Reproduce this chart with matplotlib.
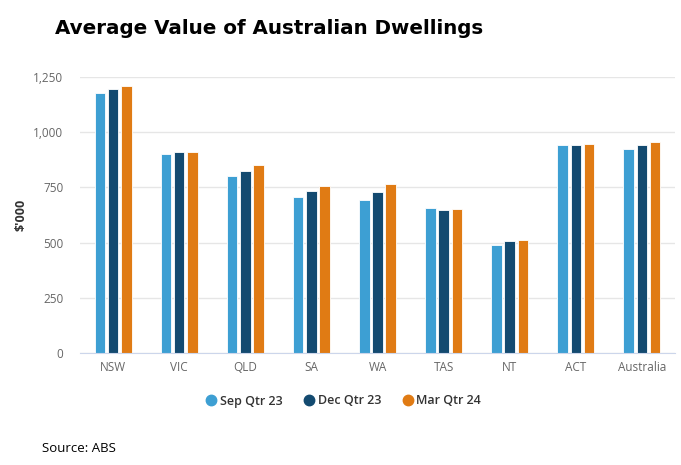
import matplotlib
matplotlib.use("Agg")
import matplotlib.pyplot as plt
import numpy as np
from matplotlib.lines import Line2D

categories = ["NSW", "VIC", "QLD", "SA", "WA", "TAS", "NT", "ACT", "Australia"]
series_names = ["Sep Qtr 23", "Dec Qtr 23", "Mar Qtr 24"]
sep_q23 = [1176, 901, 803, 707, 691, 658, 488, 944, 922]
dec_q23 = [1194, 912, 826, 734, 728, 648, 507, 940, 940]
mar_q24 = [1209, 912, 850, 756, 767, 651, 510, 948, 956]
yticks = [0, 250, 500, 750, 1000, 1250]
ytick_labels = ["0", "250", "500", "750", "1,000", "1,250"]
colors = ["#3D9FD3", "#134A70", "#E07B14"]

plt.rcParams['font.family'] = ['Open Sans', 'DejaVu Sans']

fig = plt.figure(figsize=(6.81, 4.65), dpi=100)
ax = fig.add_axes([80/681, 1-353/465, 595/681, 276/465])

x = np.arange(len(categories))
step = 0.2
width = 0.16
for i, (vals, c) in enumerate(zip([sep_q23, dec_q23, mar_q24], colors)):
    ax.bar(x + (i - 1) * step, vals, width=width, color=c, edgecolor="white",
           linewidth=0.6, zorder=3)

ax.set_xlim(-0.5, len(categories) - 0.5)
ax.set_ylim(0, 1250)
ax.set_yticks(yticks)
ax.set_yticklabels(ytick_labels)
ax.set_xticks(x)
ax.set_xticklabels(categories)
ax.tick_params(axis='y', length=0, labelsize=8.5, colors="#666666", pad=12)
ax.tick_params(axis='x', length=0, labelsize=8.5, colors="#666666", pad=6)
ax.yaxis.grid(True, color="#e6e6e6", linewidth=1, zorder=0)
for s in ["top", "right", "left"]:
    ax.spines[s].set_visible(False)
ax.spines["bottom"].set_color("#ccd6eb")
ax.spines["bottom"].set_zorder(4)
ax.set_ylabel("$'000", fontsize=9, fontweight="bold", color="#333333", labelpad=4)

fig.text(55/681, 1-28/465, "Average Value of Australian Dwellings", fontsize=14.3,
         fontweight="bold", color="#000000", va="center", ha="left",
         family=["DejaVu Sans"])

handles = [Line2D([0], [0], marker='o', linestyle='', markersize=7.5,
                  markerfacecolor=c, markeredgecolor=c) for c in colors]
leg = fig.legend(handles, series_names, loc="center", bbox_to_anchor=(343/681, 1-401/465),
                 ncol=3, frameon=False, fontsize=9, handletextpad=0.2,
                 columnspacing=1.6, handlelength=1.0)
for t in leg.get_texts():
    t.set_color("#333333")
    t.set_fontweight("semibold")

fig.text(42/681, 1-448/465, "Source: ABS", fontsize=9.5, color="#000000",
         va="center", ha="left")

fig.savefig("out.png", dpi=100)
